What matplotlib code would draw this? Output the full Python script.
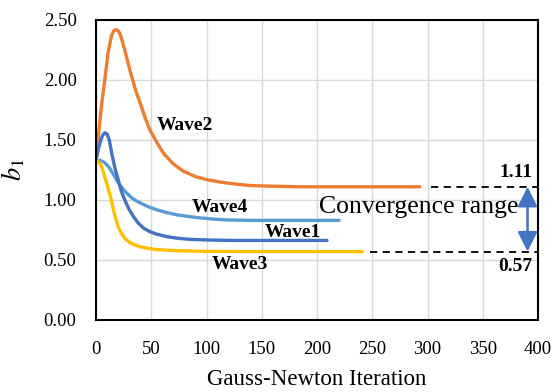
import matplotlib
matplotlib.use("Agg")
import matplotlib.pyplot as plt

plt.rcParams['font.family'] = ['Liberation Serif', 'DejaVu Serif']
plt.rcParams['mathtext.fontset'] = 'stix'

# curves (iteration, b1)
wave2_x = [0, 2, 5, 8, 11, 14, 16, 18, 20, 22, 26, 31, 36, 41, 45, 49, 55, 61, 70, 79, 90, 100, 112, 124, 140, 160, 185, 230, 293]
wave2_y = [1.33, 1.52, 1.79, 2.01, 2.23, 2.37, 2.41, 2.42, 2.41, 2.38, 2.25, 2.07, 1.91, 1.78, 1.67, 1.58, 1.48, 1.39, 1.30, 1.24, 1.195, 1.17, 1.15, 1.135, 1.12, 1.115, 1.11, 1.11, 1.11]

wave1_x = [0, 2, 4, 6, 8, 10, 12, 14, 17, 20, 23, 26, 30, 34, 38, 43, 49, 55, 64, 73, 85, 100, 121, 160, 209]
wave1_y = [1.33, 1.42, 1.49, 1.54, 1.56, 1.55, 1.50, 1.40, 1.27, 1.17, 1.07, 1.00, 0.92, 0.86, 0.81, 0.765, 0.735, 0.715, 0.695, 0.682, 0.672, 0.667, 0.663, 0.663, 0.663]

wave4_x = [0, 4, 8, 12, 16, 19, 22, 25, 28, 32, 36, 40, 47, 55, 64, 73, 84, 94, 106, 118, 140, 170, 220]
wave4_y = [1.32, 1.33, 1.31, 1.27, 1.21, 1.16, 1.12, 1.085, 1.055, 1.02, 0.995, 0.975, 0.945, 0.918, 0.895, 0.877, 0.862, 0.851, 0.841, 0.834, 0.83, 0.83, 0.83]

wave3_x = [0, 3, 5, 8, 10, 13, 16, 18, 20, 23, 26, 30, 35, 40, 47, 54, 61, 72, 85, 100, 130, 170, 241]
wave3_y = [1.33, 1.31, 1.28, 1.19, 1.13, 1.03, 0.91, 0.84, 0.78, 0.72, 0.68, 0.65, 0.625, 0.61, 0.597, 0.588, 0.583, 0.578, 0.575, 0.572, 0.57, 0.57, 0.57]

upper = 1.11
lower = 0.57

fig = plt.figure(figsize=(5.56, 3.92), dpi=100)
ax = fig.add_axes([0.1727, 0.1837, 0.795, 0.7653])

ax.plot(wave2_x, wave2_y, color='#ED7D31', lw=2.4, solid_capstyle='round', solid_joinstyle='round')
ax.plot(wave4_x, wave4_y, color='#5B9BD5', lw=2.4, solid_capstyle='round', solid_joinstyle='round')
ax.plot(wave1_x, wave1_y, color='#4472C4', lw=2.4, solid_capstyle='round', solid_joinstyle='round')
ax.plot(wave3_x, wave3_y, color='#FFC000', lw=2.4, solid_capstyle='round', solid_joinstyle='round')

# convergence range markers
ax.plot([303, 400], [upper, upper], color='black', lw=1.3, ls=(0, (4, 3)))
ax.plot([248, 400], [lower, lower], color='black', lw=1.3, ls=(0, (4, 3)))
ax.annotate('', xy=(390.5, lower), xytext=(390.5, upper),
            arrowprops=dict(arrowstyle='<|-|>,head_length=0.6,head_width=0.3', color='#4472C4', lw=1.8,
                            mutation_scale=20, shrinkA=0, shrinkB=0))
ax.text(395, 1.16, '1.11', fontsize=14, fontweight='bold', ha='right', va='bottom')
ax.text(395, 0.515, '0.57', fontsize=14, fontweight='bold', ha='right', va='top')
ax.text(292, 0.94, 'Convergence range', fontsize=18.5, ha='center', va='center')

ax.text(80, 1.62, 'Wave2', fontsize=14, fontweight='bold', ha='center', va='center')
ax.text(112, 0.94, 'Wave4', fontsize=14, fontweight='bold', ha='center', va='center')
ax.text(178, 0.73, 'Wave1', fontsize=14, fontweight='bold', ha='center', va='center')
ax.text(130, 0.46, 'Wave3', fontsize=14, fontweight='bold', ha='center', va='center')

ax.set_xlim(0, 400)
ax.set_ylim(0, 2.5)
ax.set_xticks(range(0, 401, 50))
ax.set_yticks([0, 0.5, 1.0, 1.5, 2.0, 2.5])
ax.set_yticklabels(['0.00', '0.50', '1.00', '1.50', '2.00', '2.50'])
ax.tick_params(axis='both', length=0, labelsize=13.5)
ax.tick_params(axis='x', pad=15)
ax.tick_params(axis='y', pad=14)
ax.grid(True, color='#d9d9d9', lw=1)
ax.set_axisbelow(True)
for s in ax.spines.values():
    s.set_color('black')
    s.set_linewidth(1.5)

ax.set_xlabel('Gauss-Newton Iteration', fontsize=16.5, labelpad=8)
ax.set_ylabel(r'$b_1$', fontsize=19, labelpad=12)

fig.savefig('out.png', dpi=100)
